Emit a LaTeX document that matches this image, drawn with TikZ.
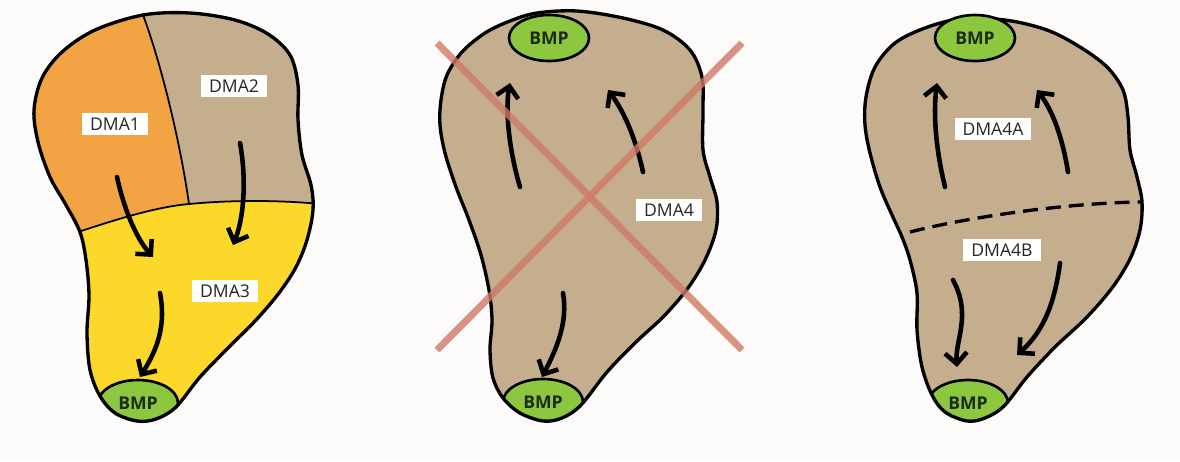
\documentclass[tikz,border=0pt]{standalone}
\usepackage{fontspec}
\setmainfont{Open Sans}
\usetikzlibrary{arrows.meta,shapes.geometric}
\definecolor{domorange}{RGB}{242,164,68}
\definecolor{domtan}{RGB}{196,174,142}
\definecolor{domyellow}{RGB}{251,216,42}
\definecolor{bmpgreen}{RGB}{141,198,63}
\definecolor{bmptext}{RGB}{28,42,18}
\definecolor{crossred}{RGB}{208,122,104}
\definecolor{paper}{RGB}{252,251,250}
% outlines, in pixel units of the figure
\newcommand{\blobone}{plot[smooth cycle, tension=0.55] coordinates {(143,15) (190,13) (235,20) (268,34) (290,55) (298,85) (298,120) (302,155) (311,185) (313,210) (307,240) (296,267) (279,293) (256,320) (229,347) (200,377) (176,407) (156,419) (137,421) (115,413) (100,396) (90,370) (87,333) (89,295) (86,260) (80,232) (66,205) (50,177) (38,142) (34,110) (42,78) (62,52) (95,30)}}
\newcommand{\blobtwo}{plot[smooth cycle, tension=0.55] coordinates {(537,13) (577,11) (623,18) (663,30) (690,50) (702,77) (703,110) (703,150) (710,177) (717,202) (716,230) (705,260) (688,288) (664,316) (636,342) (607,372) (581,405) (562,418) (543,421) (520,413) (503,398) (493,378) (490,350) (492,320) (489,290) (481,255) (469,220) (456,187) (445,153) (440,125) (441,100) (447,75) (462,52) (485,33) (510,21)}}
\newcommand{\blobthree}{plot[smooth cycle, tension=0.55] coordinates {(960,19) (1005,20) (1047,30) (1080,47) (1107,67) (1123,90) (1128,117) (1130,150) (1137,177) (1142,202) (1140,230) (1130,259) (1112,288) (1086,318) (1055,347) (1027,377) (1004,406) (985,418) (967,421) (945,412) (932,395) (922,367) (917,330) (917,293) (910,260) (902,237) (892,215) (880,187) (870,153) (865,125) (866,97) (875,67) (895,43) (925,28)}}

\begin{document}
\begin{tikzpicture}[x=0.02cm, y=-0.02cm,
  outline/.style={line width=1.9pt, line join=round},
  divider/.style={line width=1pt},
  flow/.style={line width=2.6pt, line cap=round, -{Straight Barb[length=2.2mm, width=4.4mm]}},
  lbl/.style={fill=white, text=black!85, font=\fontsize{10}{12}\selectfont, inner xsep=4.5pt, inner ysep=2.8pt, text height=7pt, text depth=0pt},
  bmp/.style={ellipse, draw, line width=1.5pt, fill=bmpgreen, minimum width=1.6cm, minimum height=0.92cm, inner sep=0pt, text=bmptext, font=\bfseries\fontsize{10}{12}\selectfont},
  cross/.style={crossred, line width=4pt, opacity=0.8}
]
\fill[paper] (0,0) rectangle (1180,461);
\useasboundingbox (0,0) rectangle (1180,461);

% Left blob: DMA1, DMA2 and DMA3.
\begin{scope}
  \clip \blobone;
  \fill[domyellow] (0,0) rectangle (400,461);
  \fill[domorange] (0,0) -- (143,0) -- (143,15) .. controls (160,60) and (180,140) .. (189,204)
    .. controls (155,207) and (115,220) .. (81,231) -- (0,250) -- cycle;
  \fill[domtan] (143,0) -- (400,0) -- (400,204) -- (320,204) .. controls (280,200) and (230,200) .. (189,204)
    .. controls (180,140) and (160,60) .. (143,15) -- cycle;
  \draw[divider] (143,15) .. controls (160,60) and (180,140) .. (189,204);
  \draw[divider] (81,231) .. controls (115,220) and (155,207) .. (189,204) .. controls (230,200) and (280,200) .. (320,204);
  \node[bmp] (b1bmp) at (138,403) {BMP};
\end{scope}
\draw[outline] \blobone;
\draw[flow] (117,177) .. controls (123,205) and (135,237) .. (153,257);
\draw[flow] (240,143) .. controls (246,175) and (245,215) .. (233,245);
\draw[flow] (160,293) .. controls (166,325) and (158,348) .. (140,377);
\node[lbl] (b1dma1) at (115,124) {DMA1};
\node[lbl] (b1dma2) at (234,86) {DMA2};
\node[lbl] (b1dma3) at (225,291) {DMA3};

% Middle blob: DMA4, crossed out.
\begin{scope}
  \clip \blobtwo;
  \fill[domtan] (400,0) rectangle (800,461);
  \node[bmp] (b2bmpbot) at (543,402) {BMP};
\end{scope}
\draw[outline] \blobtwo;
\node[bmp] (b2bmptop) at (549,38) {BMP};
\draw[flow] (520,187) .. controls (509,150) and (505,110) .. (510,83);
\draw[flow] (643,172) .. controls (636,140) and (625,113) .. (608,90);
\draw[flow] (563,293) .. controls (568,322) and (557,348) .. (542,377);
\draw[cross] (437,43) -- (742,350);
\draw[cross] (437,350) -- (742,43);
\node[lbl] (b2dma4) at (669,210) {DMA4};

% Right blob: DMA4A above the dashed line, DMA4B below.
\begin{scope}
  \clip \blobthree;
  \fill[domtan] (800,0) rectangle (1180,461);
  \node[bmp] (b3bmpbot) at (968,403) {BMP};
\end{scope}
\draw[outline] \blobthree;
\node[bmp] (b3bmptop) at (975,38) {BMP};
\draw[line width=1.9pt, dash pattern=on 0.3cm off 0.16cm] (910,232) .. controls (960,219) and (1060,203) .. (1141,202);
\draw[flow] (945,187) .. controls (936,150) and (933,115) .. (937,83);
\draw[flow] (1068,172) .. controls (1062,135) and (1052,110) .. (1037,90);
\draw[flow] (953,280) .. controls (972,315) and (955,340) .. (957,367);
\draw[flow] (1060,263) .. controls (1055,300) and (1045,330) .. (1017,355);
\node[lbl] (b3dma4a) at (993,129) {DMA4A};
\node[lbl] (b3dma4b) at (1002,250) {DMA4B};
\end{tikzpicture}
\end{document}
